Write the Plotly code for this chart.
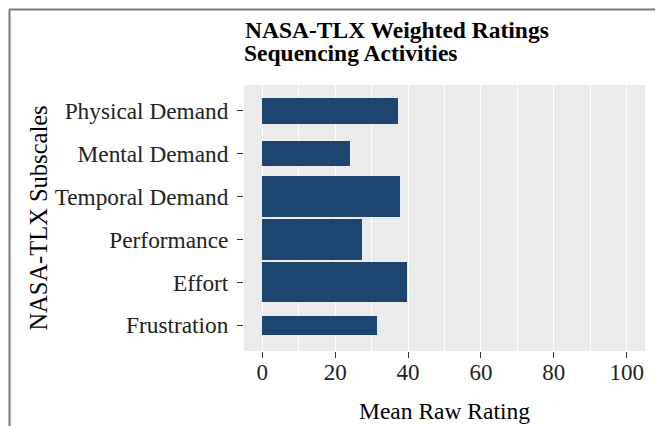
import plotly.graph_objects as go

subscales = ["Physical Demand", "Mental Demand", "Temporal Demand",
             "Performance", "Effort", "Frustration"]
mean_raw_rating = [37.2, 24.1, 37.8, 27.4, 39.7, 31.5]
bar_weight = [0.61, 0.58, 0.95, 0.95, 0.93, 0.44]
x_ticks = [0, 20, 40, 60, 80, 100]

positions = list(range(1, len(subscales) + 1))

FONT = "Liberation Serif"
# page body has an 8px margin; layout figures below are in figure pixels
L, R, T, B = 236, 26, 77, 83
PW = 663 - L - R
PH = 426 - T - B

fig = go.Figure(
    go.Bar(
        x=mean_raw_rating,
        y=positions,
        width=bar_weight,
        orientation="h",
        marker=dict(color="#1c4670", line=dict(width=0)),
        showlegend=False,
    )
)

fig.update_layout(
    width=663,
    height=426,
    margin=dict(l=L, r=R, t=T, b=B),
    paper_bgcolor="white",
    plot_bgcolor="#EBEBEB",
    font=dict(family=FONT, color="#1a1a1a"),
    title=dict(
        text="<b>NASA-TLX Weighted Ratings</b>",
        font=dict(family=FONT, size=23.5, color="black"),
        x=237 / 663, xanchor="left", xref="container",
        y=1 - 21.5 / 426, yanchor="middle", yref="container",
        pad=dict(l=0, r=0, t=0, b=0),
    ),
    bargap=0,
)

fig.add_annotation(
    text="<b>Sequencing Activities</b>",
    xref="paper", yref="paper",
    x=-1 / PW, y=(426 - B - 45.5) / PH,
    xanchor="left", yanchor="middle",
    showarrow=False,
    font=dict(family=FONT, size=23.5, color="black"),
    borderpad=0,
)

fig.update_xaxes(
    range=[-5, 105],
    tickvals=x_ticks,
    ticktext=[str(v) for v in x_ticks],
    showgrid=True, gridcolor="white", gridwidth=1.1,
    minor=dict(dtick=10, tick0=0, showgrid=True, gridcolor="white", gridwidth=0.55, ticks=""),
    zeroline=False,
    showline=False,
    ticks="outside", ticklen=6, tickcolor="#333333", tickwidth=1.1,
    ticklabelstandoff=-6,
    tickfont=dict(family=FONT, size=23, color="#222222"),
    title=dict(text="Mean Raw Rating", font=dict(family=FONT, size=23.5, color="black"), standoff=18),
)

fig.update_yaxes(
    range=[6.6, 0.4],
    tickvals=positions,
    ticktext=subscales,
    showgrid=False,
    zeroline=False,
    showline=False,
    ticks="outside", ticklen=6, tickcolor="#333333", tickwidth=1.1,
    ticklabelstandoff=4,
    tickfont=dict(family=FONT, size=23.3, color="#222222"),
    title=dict(text="NASA-TLX Subscales", font=dict(family=FONT, size=24.5, color="black"), standoff=0),
)

# outer frame (top and left edges of the original bordered image)
px0 = (1.5 - L) / PW
py0 = (426 - B - 1.5) / PH
fig.add_shape(type="line", xref="paper", yref="paper",
              x0=px0, x1=2.0, y0=py0, y1=py0,
              line=dict(color="#7a7a7a", width=2), layer="above")
fig.add_shape(type="line", xref="paper", yref="paper",
              x0=px0, x1=px0, y0=py0, y1=-2.0,
              line=dict(color="#7a7a7a", width=2), layer="above")

fig.write_html("out.html")
